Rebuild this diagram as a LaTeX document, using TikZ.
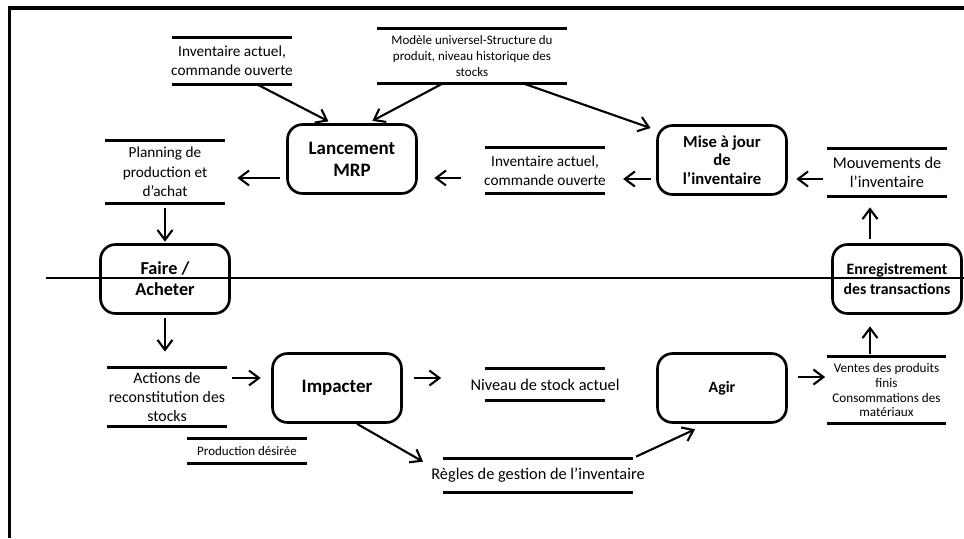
\documentclass[tikz,border=0pt]{standalone}
\usepackage{fontspec}
\setmainfont{Carlito}
\usetikzlibrary{arrows.meta}
\tikzstyle{procblock} = [draw, line width=1.5pt, rounded corners=0.3cm, minimum width=2.58cm, minimum height=1.38cm, align=center, font=\bfseries\fontsize{10.8}{12.5}\selectfont]
\tikzstyle{storeblock} = [inner sep=0pt, minimum width=2.4cm, align=center, font=\fontsize{9}{11}\selectfont]
\tikzstyle{smalltext} = [font=\fontsize{7.4}{9}\selectfont]
\tikzstyle{midtext} = [font=\fontsize{8.7}{11}\selectfont]
\tikzstyle{bigtext} = [font=\fontsize{9.3}{11}\selectfont]
\tikzstyle{storeline} = [draw, line width=1.6pt]
\tikzstyle{arrow} = [draw, line width=1.2pt, -{Straight Barb[length=0.2cm,width=0.3cm]}]
\tikzstyle{line} = [draw, line width=1.1pt]
\tikzstyle{outerline} = [draw, line width=2.2pt, line join=miter]
\newcommand{\procblock}[3]{node (p#1) [procblock,#2] {#3}}
\newcommand{\storeblock}[3]{node (d#1) [storeblock,#2] {#3}}
\newcommand{\storelines}[2]{\path [storeline] ([xshift=-#2]d#1.north) -- ([xshift=#2]d#1.north) ([xshift=-#2]d#1.south) -- ([xshift=#2]d#1.south);}

\begin{document}
\begin{tikzpicture}[x=0.02cm, y=-0.02cm]
\useasboundingbox (0,0) rectangle (964,538);
\path [outerline] (9.5,538) -- (9.5,8) -- (964,8);
\path [line] (46,278) -- (964,278);

% processes
\path (352,159) \procblock{1}{}{Lancement\\MRP};
\path (p1)+(370,1) \procblock{2}{font=\bfseries\fontsize{9.5}{10.5}\selectfont}{Mise à jour\\de\\l’inventaire};
\path (165,279) \procblock{3}{font=\bfseries\fontsize{10.4}{12}\selectfont}{Faire /\\Acheter};
\path (p3)+(732,0) \procblock{4}{font=\bfseries\fontsize{9}{11}\selectfont}{Enregistrement\\des transactions};
\path (337,388) \procblock{5}{}{Impacter};
\path (p5)+(385,0) \procblock{6}{font=\bfseries\fontsize{9}{11}\selectfont}{Agir};

% data stores
\path (232,61) \storeblock{1}{minimum height=0.92cm, midtext}{Inventaire actuel,\\commande ouverte};
\path (472,56) \storeblock{2}{minimum width=3.8cm, minimum height=1.08cm, smalltext}{Modèle universel-Structure du\\produit, niveau historique des\\stocks};
\path (165,172) \storeblock{3}{minimum height=1.24cm, midtext}{Planning de\\production et\\d’achat};
\path (545,170.5) \storeblock{4}{minimum height=0.9cm, midtext}{Inventaire actuel,\\commande ouverte};
\path (887,172.5) \storeblock{5}{minimum height=0.94cm, bigtext}{Mouvements de\\l’inventaire};
\path (167,397) \storeblock{6}{minimum height=1.16cm}{Actions de\\reconstitution des\\stocks};
\path (247,451) \storeblock{7}{minimum height=0.48cm, smalltext}{Production désirée};
\path (545,384.5) \storeblock{8}{minimum height=0.62cm, bigtext}{Niveau de stock actuel};
\path (538,475.5) \storeblock{9}{minimum width=3.8cm, minimum height=0.66cm, bigtext}{Règles de gestion de l’inventaire};
\path (886.5,390) \storeblock{10}{minimum height=1.32cm, font=\fontsize{7.5}{8.5}\selectfont}{Ventes des produits\\finis\\Consommations des\\matériaux};
\foreach \i/\w in {1/1.2cm, 2/1.9cm, 3/1.2cm, 4/1.2cm, 5/1.2cm, 6/1.2cm, 7/1.2cm, 8/1.2cm, 9/1.9cm, 10/1.2cm} {\storelines{\i}{\w}}

% flows
\path [arrow, shorten >=0.08cm] ([xshift=0.5cm]d1.south) -- ([xshift=-0.4cm]p1.north);
\path [arrow, shorten >=0.1cm] ([xshift=-0.58cm]d2.south) -- ([xshift=0.32cm]p1.north);
\path [arrow, shorten >=0.12cm] ([xshift=1.02cm]d2.south) -- ([yshift=0.6cm]p2.west);
\path [arrow, shorten <=0.12cm, shorten >=0.24cm] ([yshift=-0.38cm]p1.west) -- ([yshift=-0.38cm]p1.west -| d3.east);
\path [arrow, shorten <=0.46cm, shorten >=0.33cm] ([yshift=-0.38cm]p1.east -| d4.west) -- ([yshift=-0.38cm]p1.east);
\path [arrow, shorten <=0.11cm, shorten >=0.34cm] ([yshift=-0.38cm]p2.west) -- ([yshift=-0.38cm]p2.west -| d4.east);
\path [arrow, shorten <=0.08cm, shorten >=0.17cm] ([yshift=-0.38cm]p2.east -| d5.west) -- ([yshift=-0.38cm]p2.east);
\path [arrow, shorten <=0.09cm, shorten >=0.22cm] ([xshift=-0.54cm]p4.north) -- ([xshift=-0.54cm]p4.north |- d5.south);
\path [arrow, shorten <=0.1cm, shorten >=0.03cm] (d3.south) -- (p3.north);
\path [arrow, shorten <=0.07cm, shorten >=0.32cm] (p3.south) -- (p3.south |- d6.north);
\path [arrow, shorten <=0.1cm, shorten >=0.21cm] ([yshift=0.2cm]p5.west -| d6.east) -- ([yshift=0.2cm]p5.west);
\path [arrow, shorten <=0.23cm, shorten >=0.58cm] ([yshift=0.2cm]p5.east) -- ([yshift=0.2cm]p5.east -| d8.west);
\path [arrow] ([xshift=0.4cm]p5.south) -- ([xshift=-2.3cm,yshift=-0.06cm]d9.north);
\path [arrow] ([xshift=1.96cm,yshift=0.04cm]d9.north) -- ([xshift=-0.54cm,yshift=-0.11cm]p6.south);
\path [arrow, shorten <=0.21cm, shorten >=0.02cm] ([yshift=0.22cm]p6.east) -- ([yshift=0.22cm]p6.east -| d10.west);
\path [arrow, shorten <=0.06cm, shorten >=0.23cm] ([xshift=-0.54cm]p4.south |- d10.north) -- ([xshift=-0.54cm]p4.south);
\end{tikzpicture}
\end{document}
